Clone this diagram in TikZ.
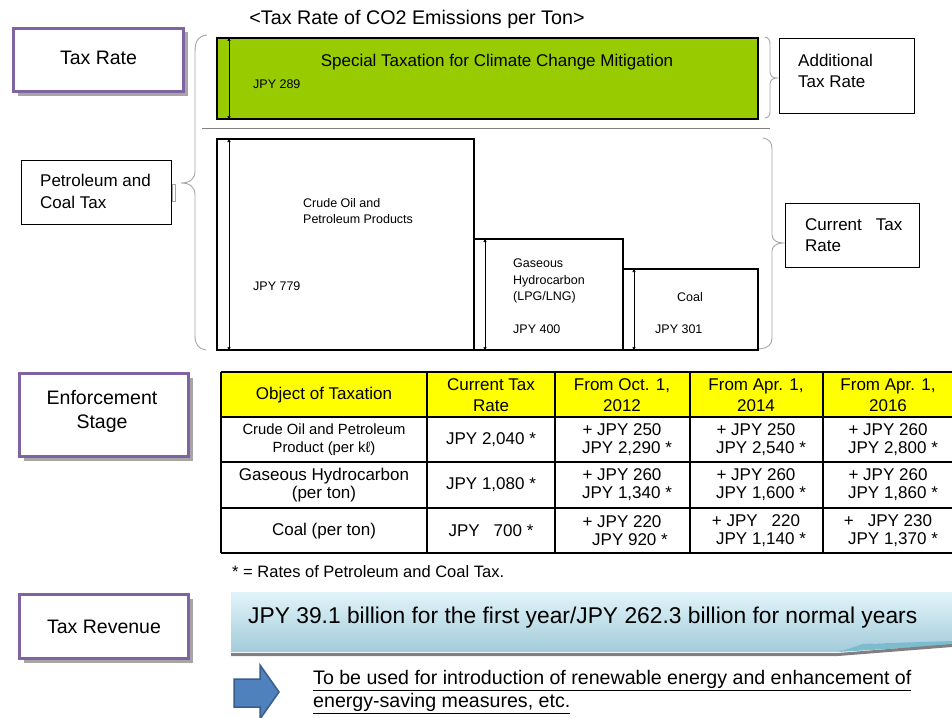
\documentclass[tikz,border=0pt]{standalone}
\usepackage{fontspec}
\setmainfont{Liberation Sans}
\usetikzlibrary{arrows.meta,shadows}
\definecolor{purpleC}{HTML}{8064A2}
\definecolor{greenC}{HTML}{99CC00}
\definecolor{yellowC}{HTML}{FFFF00}
\definecolor{braceC}{HTML}{A6A6A6}
\definecolor{bannerTop}{HTML}{E2F4FA}
\definecolor{bannerBot}{HTML}{A2CBD9}
\definecolor{bannerDark}{HTML}{7DBBCF}
\definecolor{arrowFill}{HTML}{4F81BD}
\definecolor{arrowLine}{HTML}{385D8A}
\newcommand\fsz[2]{\fontsize{#1pt}{#2pt}\selectfont}
\begin{document}
\begin{tikzpicture}[x=1pt,y=-1pt,
  purplebox/.style={draw=purpleC, line width=3pt, fill=white, anchor=north west,
    drop shadow={shadow xshift=4pt, shadow yshift=-4pt, fill=gray!70, opacity=1}},
  plainbox/.style={draw=black, line width=1.2pt, fill=white, anchor=north west},
  ratebox/.style={draw=black, line width=2pt, anchor=north west},
  txt/.style={inner sep=0pt},
  dimarrow/.style={{Triangle[length=4pt,width=3pt]}-{Triangle[length=4pt,width=3pt]}, line width=0.6pt},
  bracestyle/.style={draw=braceC, line width=0.9pt},
  tline/.style={line width=2pt},
  big/.style={font=\fsz{19.5}{24}},
  mid/.style={font=\fsz{17}{21}},
  small/.style={font=\fsz{12.5}{16.3}},
  hd/.style={txt, align=center, font=\fsz{17}{21}},
  cell/.style={txt, align=center, font=\fsz{17}{18}}]
\useasboundingbox (0,0) rectangle (952,717);
\fill[white] (0,0) rectangle (952,717);

% title
\node[txt, font=\fsz{19.7}{22}] (title) at (417,19) {<Tax Rate of CO2 Emissions per Ton>};

% left label boxes
\node[purplebox, minimum width=170, minimum height=63] (taxrate) at (12,27) {};
\node[txt, big] (taxratet) at ([yshift=2pt]taxrate.center) {Tax Rate};

\node[plainbox, minimum width=150, minimum height=64] (pcbox) at (21,160) {};
\node[draw=braceC, line width=0.8pt, fill=white, anchor=west, minimum width=3, minimum height=17, inner sep=0pt] (pcstub) at (pcbox.east) {};
\node[txt, mid, anchor=west, align=left, font=\fsz{17}{22}] (pct) at (40,191) {Petroleum and\\Coal Tax};

% upper green box
\node[ratebox, fill=greenC, minimum width=541, minimum height=81] (special) at (216,37) {};
\node[txt, font=\fsz{17}{20}] (spectext) at (497,62) {Special Taxation for Climate Change Mitigation};
\node[txt, small, anchor=west] (j289) at (253,84) {JPY 289};
\draw[dimarrow] ([xshift=13pt]special.north west) -- ([xshift=13pt]special.south west);

% separator line
\coordinate (sepL) at (202,128);
\coordinate (sepR) at (770,128);
\draw[gray, line width=1pt] (sepL) -- (sepR);

% lower boxes
\node[ratebox, minimum width=257, minimum height=211] (crude) at (216,138) {};
\node[ratebox, minimum width=149, minimum height=111] (gas) at (473,238) {};
\node[ratebox, minimum width=135, minimum height=81] (coal) at (622,268) {};
\draw[dimarrow] ([xshift=13pt]crude.north west) -- ([xshift=13pt]crude.south west);
\draw[dimarrow] ([xshift=12pt]gas.north west) -- ([xshift=12pt]gas.south west);
\draw[dimarrow] ([xshift=12pt]coal.north west) -- ([xshift=12pt]coal.south west);
\node[txt, small, anchor=west, align=left] (crudet) at (303,211) {Crude Oil and\\Petroleum Products};
\node[txt, small, anchor=west] (j779) at (253,286) {JPY 779};
\node[txt, small, anchor=west, align=left] (gast) at (513,281) {Gaseous\\Hydrocarbon\\(LPG/LNG)};
\node[txt, small, anchor=west] (j400) at (513,329) {JPY 400};
\node[txt, small] (coalt) at (690,297) {Coal};
\node[txt, small, anchor=west] (j301) at (655,329) {JPY 301};

% braces
\draw[bracestyle] (207,35) .. controls (198,36) and (195,41) .. (195,52) -- (195,171)
  .. controls (195,179) and (190,183) .. (181,183)
  .. controls (190,183) and (195,187) .. (195,195) -- (195,336)
  .. controls (195,345) and (199,349) .. (206,350);
\draw[bracestyle] (765,37) .. controls (769,38) and (770,40) .. (770,45) -- (770,72)
  .. controls (770,76) and (773,78) .. (777,78)
  .. controls (773,78) and (770,80) .. (770,84) -- (770,111)
  .. controls (770,116) and (769,117) .. (765,118);
\draw[bracestyle] (763,138) .. controls (769,139) and (772,142) .. (772,149) -- (772,235)
  .. controls (772,240) and (777,243) .. (783,243)
  .. controls (777,243) and (772,246) .. (772,251) -- (772,338)
  .. controls (772,345) and (768,348) .. (759,349);

% right label boxes
\node[plainbox, minimum width=135, minimum height=75] (addbox) at (779,38) {};
\node[txt, mid, anchor=west, align=left] (addt) at (798,71) {Additional\\Tax Rate};
\node[plainbox, minimum width=134, minimum height=64] (curbox) at (785,203) {};
\node[txt, mid, anchor=west, align=left] (curt) at (805,235) {Current\hspace{14pt}Tax\\Rate};

% enforcement
\node[purplebox, minimum width=169, minimum height=83] (enfbox) at (18,372) {};
\node[txt, big, align=center] (enft) at (102,411) {Enforcement\\Stage};

% table
\fill[yellowC] (221,372) rectangle (952,417);
\draw[tline] (221,372) -- (952,372);
\draw[tline] (221,417) -- (952,417);
\draw[tline] (221,462) -- (952,462);
\draw[tline] (221,508) -- (952,508);
\draw[tline] (221,553) -- (952,553);
\foreach \xx in {221,427,555,690,823} \draw[tline] (\xx,372) -- (\xx,553);

\node[hd] (h1) at (324,395) {Object of Taxation};
\node[hd] (h2) at (491,395) {Current Tax\\Rate};
\node[hd] (h3) at (622,395) {From Oct. 1,\\2012};
\node[hd] (h4) at (756,395) {From Apr. 1,\\2014};
\node[hd] (h5) at (888,395) {From Apr. 1,\\2016};

\node[txt, align=center, font=\fsz{14.8}{18}] (a1) at (324,440) {Crude Oil and Petroleum\\Product (per kℓ)};
\node[cell] (a2) at (491,440) {JPY 2,040 *};
\node[cell] (a3) at (622,440) {+ JPY 250\\\hspace{10pt}JPY 2,290 *};
\node[cell] (a4) at (756,440) {+ JPY 250\\\hspace{10pt}JPY 2,540 *};
\node[cell] (a5) at (888,440) {+ JPY 260\\\hspace{10pt}JPY 2,800 *};

\node[cell] (b1) at (324,485) {Gaseous Hydrocarbon\\(per ton)};
\node[cell] (b2) at (491,485) {JPY 1,080 *};
\node[cell] (b3) at (622,485) {+ JPY 260\\\hspace{10pt}JPY 1,340 *};
\node[cell] (b4) at (756,485) {+ JPY 260\\\hspace{10pt}JPY 1,600 *};
\node[cell] (b5) at (888,485) {+ JPY 260\\\hspace{10pt}JPY 1,860 *};

\node[cell] (c1) at (324,531) {Coal (per ton)};
\node[cell] (c2) at (491,531) {JPY\hspace{14pt}700 *};
\node[cell] (c3) at (622,531) {+ JPY 220\\\hspace{16pt}JPY 920 *};
\node[cell] (c4) at (756,531) {+ JPY\hspace{14pt}220\\\hspace{10pt}JPY 1,140 *};
\node[cell] (c5) at (888,531) {+\hspace{14pt}JPY 230\\\hspace{10pt}JPY 1,370 *};

\node[txt, anchor=west, font=\fsz{16.5}{20}] (foot) at (232,572) {* = Rates of Petroleum and Coal Tax.};

% tax revenue
\node[purplebox, minimum width=169, minimum height=64] (revbox) at (18,593) {};
\node[txt, big] (revt) at (revbox.center) {Tax Revenue};

\shade[top color=bannerTop, bottom color=bannerBot] (231,592) -- (952,592) -- (952,642) -- (862,644) -- (838,652) -- (231,652) -- cycle;
\fill[bannerDark] (838,652) -- (862,644) -- (952,641) -- (952,645) -- cycle;
\draw[gray, line width=3pt] (231,654.5) -- (838,654.5) -- (952,645.5);
\node[txt, anchor=west, font=\fsz{22.8}{26}] (revenue) at (248,618) {JPY 39.1 billion for the first year/JPY 262.3 billion for normal years};

% blue arrow
\draw[fill=arrowFill, draw=arrowLine, line width=1.5pt, line join=miter]
  (234,679) -- (260,679) -- (260,665) -- (279,692) -- (260,719) -- (260,707) -- (234,707) -- cycle;
\node[txt, anchor=west, align=left, font=\fsz{19.6}{23}] (uset) at (313,692) {\underline{To be used for introduction of renewable energy and enhancement of}\\\underline{energy-saving measures, etc.}};
\end{tikzpicture}
\end{document}
